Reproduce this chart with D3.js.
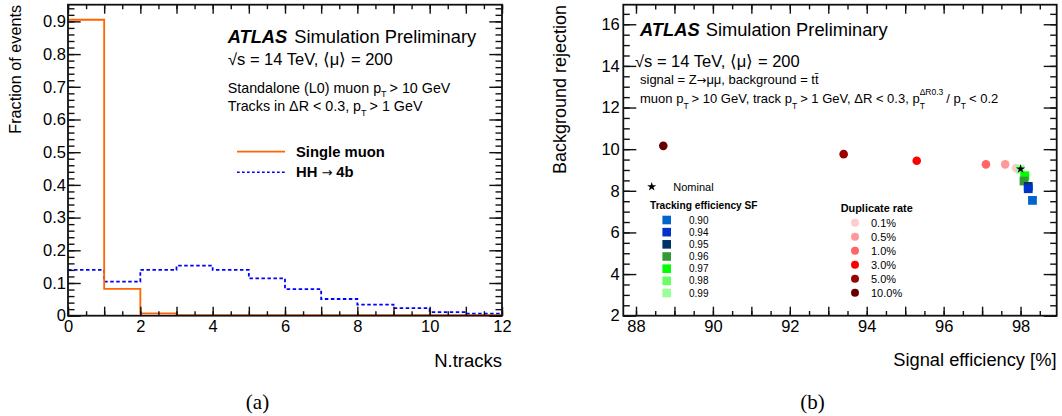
<!DOCTYPE html>
<html>
<head>
<meta charset="utf-8">
<script src="https://cdn.jsdelivr.net/npm/d3@7"></script>
<style>
  html, body { margin: 0; padding: 0; background: #fff; }
  svg { display: block; font-family: "Liberation Sans", Arial, Helvetica, sans-serif; }
</style>
</head>
<body>
<svg id="fig" width="1062" height="416"></svg>
<script>
// ---------- (a) track multiplicity around the muon ----------
const trackBinEdges = [0, 1, 2, 3, 4, 5, 6, 7, 8, 9, 10, 11, 12];
const singleMuonFrac = [0.905, 0.082, 0.007, 0.002, 0.002, 0.002, 0.002, 0.002, 0.002, 0.002, 0.002, 0.002];
const hh4bFrac = [0.140, 0.104, 0.140, 0.153, 0.140, 0.114, 0.081, 0.051, 0.034, 0.023, 0.011, 0.006];
const histNames = ["Single muon", "HH \u2192 4b"];
const leftXTickLabels = ["0", "2", "4", "6", "8", "10", "12"];
const leftYTickLabels = ["0", "0.1", "0.2", "0.3", "0.4", "0.5", "0.6", "0.7", "0.8", "0.9"];

// ---------- (b) efficiency vs rejection scan ----------
const dupRateLabels = ["0.1%", "0.5%", "1.0%", "3.0%", "5.0%", "10.0%"];
const dupRateEff = [97.88, 97.60, 97.10, 95.30, 93.40, 88.71];
const dupRateRej = [9.09, 9.27, 9.27, 9.44, 9.76, 10.16];
const dupRateColors = ["#ffcccc", "#ff9999", "#ff6666", "#ff0000", "#990000", "#660000"];

const trkSFLabels = ["0.90", "0.94", "0.95", "0.96", "0.97", "0.98", "0.99"];
const trkSFEff = [98.31, 98.20, 98.20, 98.09, 98.11, 98.11, 97.99];
const trkSFRej = [7.54, 8.10, 8.21, 8.47, 8.71, 8.73, 9.04];
const trkSFColors = ["#0066cc", "#0033cc", "#003366", "#339933", "#00ff00", "#66ff66", "#99ff99"];

const nominalEff = [98.00];
const nominalRej = [9.05];

const rightXTickLabels = ["88", "90", "92", "94", "96", "98"];
const rightYTickLabels = ["2", "4", "6", "8", "10", "12", "14", "16"];

// ---------- helpers ----------
const svg = d3.select("#fig");
const INK = "#111";
const ARROW_FONT = "'DejaVu Sans', sans-serif";

// Draws a ROOT-style frame: inward ticks on all four sides, labels on bottom/left.
function drawFrame(g, x, y, o) {
  const [xl, xr] = x.range();
  const [yb, yt] = y.range();
  const style = sel => {
    sel.select(".domain").remove();
    sel.selectAll("line").attr("stroke", INK).attr("stroke-width", 1.4);
    sel.selectAll("text").attr("fill", "#000").attr("font-size", o.labelSize);
  };
  // minor ticks
  g.append("g").attr("transform", `translate(0,${yb})`)
    .call(d3.axisBottom(x).tickValues(o.xMinor).tickSize(-o.xMinLen).tickFormat("")).call(style);
  g.append("g").attr("transform", `translate(0,${yt})`)
    .call(d3.axisTop(x).tickValues(o.xMinor).tickSize(-o.xMinLen).tickFormat("")).call(style);
  g.append("g").attr("transform", `translate(${xl},0)`)
    .call(d3.axisLeft(y).tickValues(o.yMinor).tickSize(-o.yMinLen).tickFormat("")).call(style);
  g.append("g").attr("transform", `translate(${xr},0)`)
    .call(d3.axisRight(y).tickValues(o.yMinor).tickSize(-o.yMinLen).tickFormat("")).call(style);
  // major ticks (mirrored sides unlabeled)
  g.append("g").attr("transform", `translate(0,${yt})`)
    .call(d3.axisTop(x).tickValues(o.xMajor).tickSize(-o.xMajLen).tickFormat("")).call(style);
  g.append("g").attr("transform", `translate(${xr},0)`)
    .call(d3.axisRight(y).tickValues(o.yMajor).tickSize(-o.yMajLen).tickFormat("")).call(style);
  g.append("g").attr("transform", `translate(0,${yb})`)
    .call(d3.axisBottom(x).tickValues(o.xMajor).tickSize(-o.xMajLen).tickPadding(o.xPad)
      .tickFormat(v => o.xLabels.includes(String(v)) ? String(v) : "")).call(style);
  g.append("g").attr("transform", `translate(${xl},0)`)
    .call(d3.axisLeft(y).tickValues(o.yMajor).tickSize(-o.yMajLen).tickPadding(o.yPad)
      .tickFormat(v => o.yLabels[o.yMajor.indexOf(v)])).call(style);
  // frame
  g.append("rect").attr("x", xl).attr("y", yt).attr("width", xr - xl).attr("height", yb - yt)
    .attr("fill", "none").attr("stroke", INK).attr("stroke-width", 1.8);
}

// Writes a run of text pieces (sub/superscripts, mixed weights) one after another.
function rich(g, x, y, pieces, base) {
  let cx = x, held = 0;
  pieces.forEach(p => {
    const t = g.append("text")
      .attr("x", cx).attr("y", y + (p.dy || 0))
      .attr("font-size", p.size || base)
      .attr("font-weight", p.bold ? "bold" : "normal")
      .attr("font-style", p.italic ? "italic" : "normal")
      .attr("fill", "#000")
      .text(p.t);
    if (p.family) t.attr("font-family", p.family);
    const w = t.node().getComputedTextLength();
    if (p.hold) { held = w; return; }
    cx += Math.max(w, held) + (p.gap || 0);
    held = 0;
  });
  return cx;
}

function atlasLabel(g, x, y, simX, size) {
  g.append("text").attr("x", x).attr("y", y).attr("font-size", size)
    .attr("font-weight", "bold").attr("font-style", "italic").text("ATLAS");
  g.append("text").attr("x", simX).attr("y", y).attr("font-size", size).text("Simulation Preliminary");
}

// ================= panel (a) =================
{
  const g = svg.append("g");
  const x = d3.scaleLinear().domain([0, 12]).range([68, 502]);
  const y = d3.scaleLinear().domain([0, 0.951]).range([315.7, 4.7]);

  const step = vals => {
    const pts = [];
    vals.forEach((v, i) => { pts.push([trackBinEdges[i], v], [trackBinEdges[i + 1], v]); });
    return d3.line().x(d => x(d[0])).y(d => y(d[1]))(pts);
  };

  g.append("path").attr("d", step(hh4bFrac)).attr("fill", "none")
    .attr("stroke", "#0000ff").attr("stroke-width", 1.8).attr("stroke-dasharray", "3.5,2.5");
  g.append("path").attr("d", step(singleMuonFrac)).attr("fill", "none")
    .attr("stroke", "#ff6600").attr("stroke-width", 1.8);

  const yMajor = leftYTickLabels.map(Number);
  drawFrame(g, x, y, {
    xMajor: d3.range(0, 12.001, 1), xMinor: d3.range(0, 12.001, 0.5),
    yMajor, yMinor: d3.range(0, 0.95, 0.02).map(v => +v.toFixed(2)),
    xLabels: leftXTickLabels, yLabels: leftYTickLabels,
    xMajLen: 9, xMinLen: 4.5, yMajLen: 12.7, yMinLen: 6.5,
    xPad: 5, yPad: 2, labelSize: 16.5
  });

  g.append("text").attr("x", 502).attr("y", 366.5).attr("text-anchor", "end")
    .attr("font-size", 18.5).text("N.tracks");
  g.append("text").attr("transform", "translate(20.5,5) rotate(-90)").attr("text-anchor", "end")
    .attr("font-size", 16.2).text("Fraction of events");

  atlasLabel(g, 227.7, 43.3, 294.3, 18.3);
  g.append("text").attr("x", 228).attr("y", 64.5).attr("font-size", 16.5)
    .text("\u221As = 14 TeV, \u27E8\u03BC\u27E9 = 200");
  rich(g, 227.7, 92.5, [
    { t: "Standalone (L0) muon p" }, { t: "T", size: 9, dy: 4.5, gap: 3 }, { t: "> 10 GeV" }
  ], 14.3);
  rich(g, 227.7, 111, [
    { t: "Tracks in \u0394R < 0.3, p" }, { t: "T", size: 9, dy: 4.5, gap: 3 }, { t: "> 1 GeV" }
  ], 14.3);

  // legend
  const legY = [151.7, 172.3];
  g.append("line").attr("x1", 237).attr("x2", 285).attr("y1", legY[0]).attr("y2", legY[0])
    .attr("stroke", "#ff6600").attr("stroke-width", 1.8);
  g.append("line").attr("x1", 237).attr("x2", 285).attr("y1", legY[1]).attr("y2", legY[1])
    .attr("stroke", "#0000ff").attr("stroke-width", 1.6).attr("stroke-dasharray", "2.7,2.3");
  g.append("text").attr("x", 296).attr("y", legY[0] + 5).attr("font-size", 14.8)
    .attr("font-weight", "bold").text(histNames[0]);
  const [hhA, hhB] = histNames[1].split(" \u2192 ");
  rich(g, 296, legY[1] + 5, [
    { t: hhA, bold: true, gap: 4 }, { t: "\u2192", family: ARROW_FONT, size: 13, gap: 4 }, { t: hhB, bold: true }
  ], 14.8);

  svg.append("text").attr("x", 257.5).attr("y", 409).attr("text-anchor", "middle")
    .attr("font-family", "'Liberation Serif', 'Times New Roman', serif").attr("font-size", 21).text("(a)");
}

// ================= panel (b) =================
{
  const g = svg.append("g");
  const x = d3.scaleLinear().domain([87.67, 98.94]).range([623.3, 1056.7]);
  const y = d3.scaleLinear().domain([2, 16.94]).range([315.7, 4.7]);

  const yMajor = rightYTickLabels.map(Number);
  drawFrame(g, x, y, {
    xMajor: d3.range(88, 98.5, 1), xMinor: d3.range(88, 99, 0.5),
    yMajor, yMinor: d3.range(2, 16.95, 0.5),
    xLabels: rightXTickLabels, yLabels: rightYTickLabels,
    xMajLen: 9, xMinLen: 4.7, yMajLen: 13, yMinLen: 6.5,
    xPad: 5, yPad: 3.5, labelSize: 16.5
  });

  g.append("text").attr("x", 1056.5).attr("y", 366).attr("text-anchor", "end")
    .attr("font-size", 18.3).text("Signal efficiency [%]");
  g.append("text").attr("transform", "translate(566,5) rotate(-90)").attr("text-anchor", "end")
    .attr("font-size", 18).text("Background rejection");

  // duplicate-rate scan (circles), largest rate first
  const dupIdx = d3.range(dupRateLabels.length).reverse();
  g.selectAll("circle.dup").data(dupIdx).join("circle").attr("class", "dup")
    .attr("cx", i => x(dupRateEff[i])).attr("cy", i => y(dupRateRej[i]))
    .attr("r", 4.3).attr("fill", i => dupRateColors[i]);

  // tracking-efficiency scale-factor scan (squares), highest SF first
  const sfIdx = d3.range(trkSFLabels.length).reverse();
  const sq = 8.8;
  g.selectAll("rect.sf").data(sfIdx).join("rect").attr("class", "sf")
    .attr("x", i => x(trkSFEff[i]) - sq / 2).attr("y", i => y(trkSFRej[i]) - sq / 2)
    .attr("width", sq).attr("height", sq).attr("fill", i => trkSFColors[i]);

  // nominal working point
  const star = d3.symbol().type(d3.symbolStar).size(26);
  g.selectAll("path.nom").data(nominalEff).join("path").attr("class", "nom")
    .attr("d", star).attr("fill", "#000")
    .attr("transform", (d, i) => `translate(${x(d)},${y(nominalRej[i])})`);

  // text block
  atlasLabel(g, 640, 35.5, 705.7, 18.3);
  g.append("text").attr("x", 635).attr("y", 66.5).attr("font-size", 16.5)
    .text("\u221As = 14 TeV, \u27E8\u03BC\u27E9 = 200");
  rich(g, 640, 84, [
    { t: "signal = Z" }, { t: "\u2192", family: ARROW_FONT, size: 11.5 },
    { t: "\u03BC\u03BC, background = tt\u0304" }
  ], 13);
  rich(g, 640, 103, [
    { t: "muon p" }, { t: "T", size: 8.5, dy: 5.5, gap: 3 },
    { t: "> 10 GeV, track p" }, { t: "T", size: 8.5, dy: 5.5, gap: 3 },
    { t: "> 1 GeV, \u0394R < 0.3, p" },
    { t: "\u0394R0.3", size: 8.5, dy: -8, hold: true }, { t: "T", size: 8.5, dy: 5.5, gap: 3 },
    { t: "/ p" }, { t: "T", size: 8.5, dy: 5.5, gap: 3 }, { t: "< 0.2" }
  ], 13);

  // legend: nominal
  g.append("path").attr("d", star).attr("fill", "#000").attr("transform", "translate(651.7,186.7)");
  g.append("text").attr("x", 673.3).attr("y", 190.5).attr("font-size", 11).text("Nominal");

  // legend: tracking efficiency SF
  g.append("text").attr("x", 650).attr("y", 209.3).attr("font-size", 10.2)
    .attr("font-weight", "bold").text("Tracking efficiency SF");
  const sfLegY = i => 220 + i * 12.17;
  trkSFLabels.forEach((lab, i) => {
    g.append("rect").attr("x", 666.7 - 4.3).attr("y", sfLegY(i) - 4.3).attr("width", 8.6).attr("height", 8.6)
      .attr("fill", trkSFColors[i]);
    g.append("text").attr("x", 689).attr("y", sfLegY(i) + 3.6).attr("font-size", 10).text(lab);
  });

  // legend: duplicate rate
  g.append("text").attr("x", 840.7).attr("y", 211.7).attr("font-size", 10.9)
    .attr("font-weight", "bold").text("Duplicate rate");
  const dupLegY = i => 222.7 + i * 14;
  dupRateLabels.forEach((lab, i) => {
    g.append("circle").attr("cx", 855).attr("cy", dupLegY(i)).attr("r", 4).attr("fill", dupRateColors[i]);
    g.append("text").attr("x", 871).attr("y", dupLegY(i) + 4).attr("font-size", 11).text(lab);
  });

  svg.append("text").attr("x", 812.5).attr("y", 409).attr("text-anchor", "middle")
    .attr("font-family", "'Liberation Serif', 'Times New Roman', serif").attr("font-size", 21).text("(b)");
}
</script>
</body>
</html>
